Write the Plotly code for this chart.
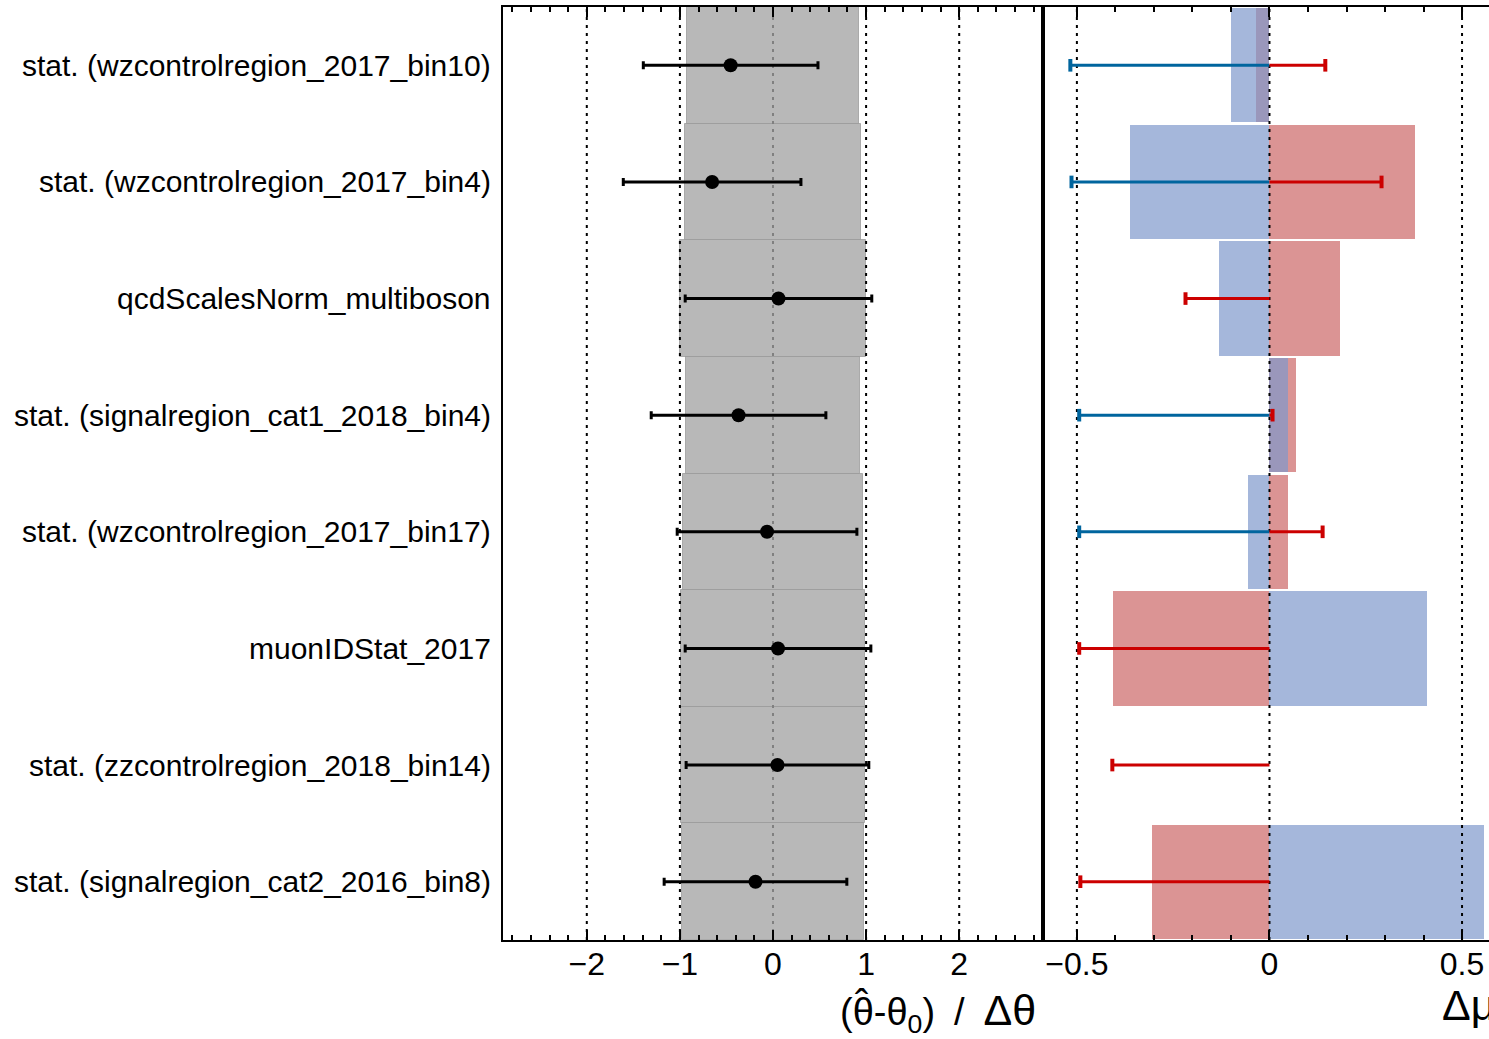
import plotly.graph_objects as go

# ---------------- data ----------------
labels = [
    "stat. (wzcontrolregion_2017_bin10)",
    "stat. (wzcontrolregion_2017_bin4)",
    "qcdScalesNorm_multiboson",
    "stat. (signalregion_cat1_2018_bin4)",
    "stat. (wzcontrolregion_2017_bin17)",
    "muonIDStat_2017",
    "stat. (zzcontrolregion_2018_bin14)",
    "stat. (signalregion_cat2_2016_bin8)",
]
pull = [-0.455, -0.654, 0.059, -0.370, -0.064, 0.054, 0.048, -0.188]
pull_err = [0.938, 0.954, 1.002, 0.938, 0.965, 0.997, 0.981, 0.981]
band = [0.92, 0.95, 1.00, 0.93, 0.965, 0.99, 0.985, 0.98]
impact_hi = [-0.036, 0.377, 0.184, 0.068, 0.047, -0.405, 0.0, -0.304]   # red bars
impact_lo = [-0.101, -0.361, -0.130, 0.049, -0.055, 0.408, 0.0, 0.556]  # blue bars
line_hi = [0.145, 0.291, -0.218, 0.008, 0.138, -0.494, -0.408, -0.491]  # red lines
line_lo = [-0.517, -0.514, 0.0, -0.494, -0.494, 0.0, 0.0, 0.0]          # blue lines
pull_ticks = [-2, -1, 0, 1, 2]
pull_ticktext = ["\u22122", "\u22121", "0", "1", "2"]
impact_ticks = [-0.5, 0, 0.5]
impact_ticktext = ["\u22120.5", "0", "0.5"]
pull_grid_black = [-2, -1, 1, 2]
pull_grid_gray = [0]
impact_grid = [-0.5, 0, 0.5]

FONT = "Liberation Sans, Arial, Helvetica, sans-serif"
rows = list(range(len(labels)))
YR = [len(labels) - 0.5, -0.5]

fig = go.Figure()

# gray constraint bands
fig.add_trace(go.Bar(
    y=rows, x=[2 * b for b in band], base=[-b for b in band], orientation="h",
    width=1.0, marker=dict(color="#b8b8b8", line=dict(color="rgba(150,150,150,0.7)", width=1)),
    xaxis="x", yaxis="y", showlegend=False, hoverinfo="skip"))

# impact bars: red first, blue on top (both translucent)
fig.add_trace(go.Bar(
    y=rows, x=impact_hi, base=0, orientation="h", width=0.98,
    marker=dict(color="rgba(204,102,102,0.7)", line=dict(width=0)),
    xaxis="x2", yaxis="y2", showlegend=False))
fig.add_trace(go.Bar(
    y=rows, x=impact_lo, base=0, orientation="h", width=0.98,
    marker=dict(color="rgba(127,153,204,0.7)", line=dict(width=0)),
    xaxis="x2", yaxis="y2", showlegend=False))

def vlines(vals, color, xa, ya):
    xs, ys = [], []
    for v in vals:
        xs += [v, v, None]
        ys += [YR[0], YR[1], None]
    fig.add_trace(go.Scatter(x=xs, y=ys, mode="lines",
                             line=dict(color=color, width=2, dash="3px,5px"),
                             xaxis=xa, yaxis=ya, showlegend=False, hoverinfo="skip"))

vlines(pull_grid_black, "black", "x", "y")
vlines(pull_grid_gray, "#808080", "x", "y")
vlines(impact_grid, "black", "x2", "y2")

# pulls
fig.add_trace(go.Scatter(
    x=pull, y=rows, mode="markers",
    marker=dict(color="black", size=14, symbol="circle"),
    error_x=dict(type="data", array=pull_err, symmetric=True, color="black",
                 thickness=3, width=4),
    xaxis="x", yaxis="y", showlegend=False))

# impact lines with end caps
def impact_lines(vals, color):
    xs, ys, cx, cy = [], [], [], []
    for i, v in zip(rows, vals):
        if v == 0:
            continue
        xs += [0, v, None]
        ys += [i, i, None]
        cx.append(v)
        cy.append(i)
    fig.add_trace(go.Scatter(x=xs, y=ys, mode="lines", line=dict(color=color, width=3),
                             xaxis="x2", yaxis="y2", showlegend=False))
    fig.add_trace(go.Scatter(x=cx, y=cy, mode="markers",
                             marker=dict(symbol="line-ns", size=9,
                                         line=dict(color=color, width=4)),
                             xaxis="x2", yaxis="y2", showlegend=False))

impact_lines(line_lo, "#00659e")
impact_lines(line_hi, "#cc0000")

W, H = 1489, 1039
ML, MR, MT, MB = 503, 0, 7, 99
pw = W - ML - MR
PULL_W = 1043 - ML
split = PULL_W / pw
PH = 940 - 7

axis_common = dict(
    showline=True, linecolor="black", linewidth=2, mirror="allticks",
    ticks="inside", ticklen=10, tickwidth=2, tickcolor="black",
    showgrid=False, zeroline=False, ticklabelstandoff=-5,
    tickfont=dict(family=FONT, size=32, color="black"),
)
fig.update_layout(
    width=W, height=H,
    margin=dict(l=ML, r=MR, t=MT, b=MB),
    paper_bgcolor="white", plot_bgcolor="white",
    barmode="overlay", bargap=0,
    font=dict(family=FONT, color="black"),
    xaxis=dict(domain=[0, split], range=[-2.9, 2.9], anchor="y",
               tickvals=pull_ticks, ticktext=pull_ticktext,
               minor=dict(dtick=0.2, tick0=0, ticklen=5, tickwidth=2, ticks="inside", tickcolor="black"),
               **axis_common),
    xaxis2=dict(domain=[split, 1], range=[-0.588, 0.570], anchor="y2",
                tickvals=impact_ticks, ticktext=impact_ticktext,
                minor=dict(dtick=0.1, tick0=0, ticklen=5, tickwidth=2, ticks="inside", tickcolor="black"),
                **axis_common),
    yaxis=dict(domain=[0, 1], range=YR, anchor="x", showticklabels=False,
               showline=True, linecolor="black", linewidth=2, mirror=True,
               ticks="", showgrid=False, zeroline=False),
    yaxis2=dict(domain=[0, 1], range=YR, anchor="x2", showticklabels=False,
                showline=True, linecolor="black", linewidth=2, mirror=False,
                ticks="", showgrid=False, zeroline=False),
)

for i, lab in zip(rows, labels):
    fig.add_annotation(text=lab, xref="x domain", yref="y", x=-10 / PULL_W, y=i,
                       xanchor="right", yanchor="middle", showarrow=False,
                       font=dict(family=FONT, size=30, color="black"))

# x-axis title of pull panel (with a hat over the first theta)
fig.add_annotation(
    text="(\u03b8-\u03b8<sub>0</sub>)\u2002/\u2002<span style='font-size:43px'>\u0394\u03b8</span>",
    xref="x domain", yref="paper", x=(838 - ML) / PULL_W, y=-(1012 - 940) / PH,
    xanchor="left", yanchor="middle", showarrow=False,
    font=dict(family=FONT, size=38, color="black"))
fig.add_annotation(text="\u02c6",
                   xref="x domain", yref="paper", x=(861 - ML) / PULL_W, y=-(1004 - 940) / PH,
                   xanchor="center", yanchor="middle", showarrow=False,
                   font=dict(family=FONT, size=40, color="black"))
fig.add_annotation(text="\u0394\u03bc", xref="x2 domain", yref="paper",
                   x=(1440 - 1043) / (W - 1043), y=-(1005 - 940) / PH,
                   xanchor="left", yanchor="middle", showarrow=False,
                   font=dict(family=FONT, size=43, color="black"))

fig.write_html("out.html", config={"displayModeBar": False},
               post_script="document.body.style.margin='0';document.body.style.overflow='hidden';")
